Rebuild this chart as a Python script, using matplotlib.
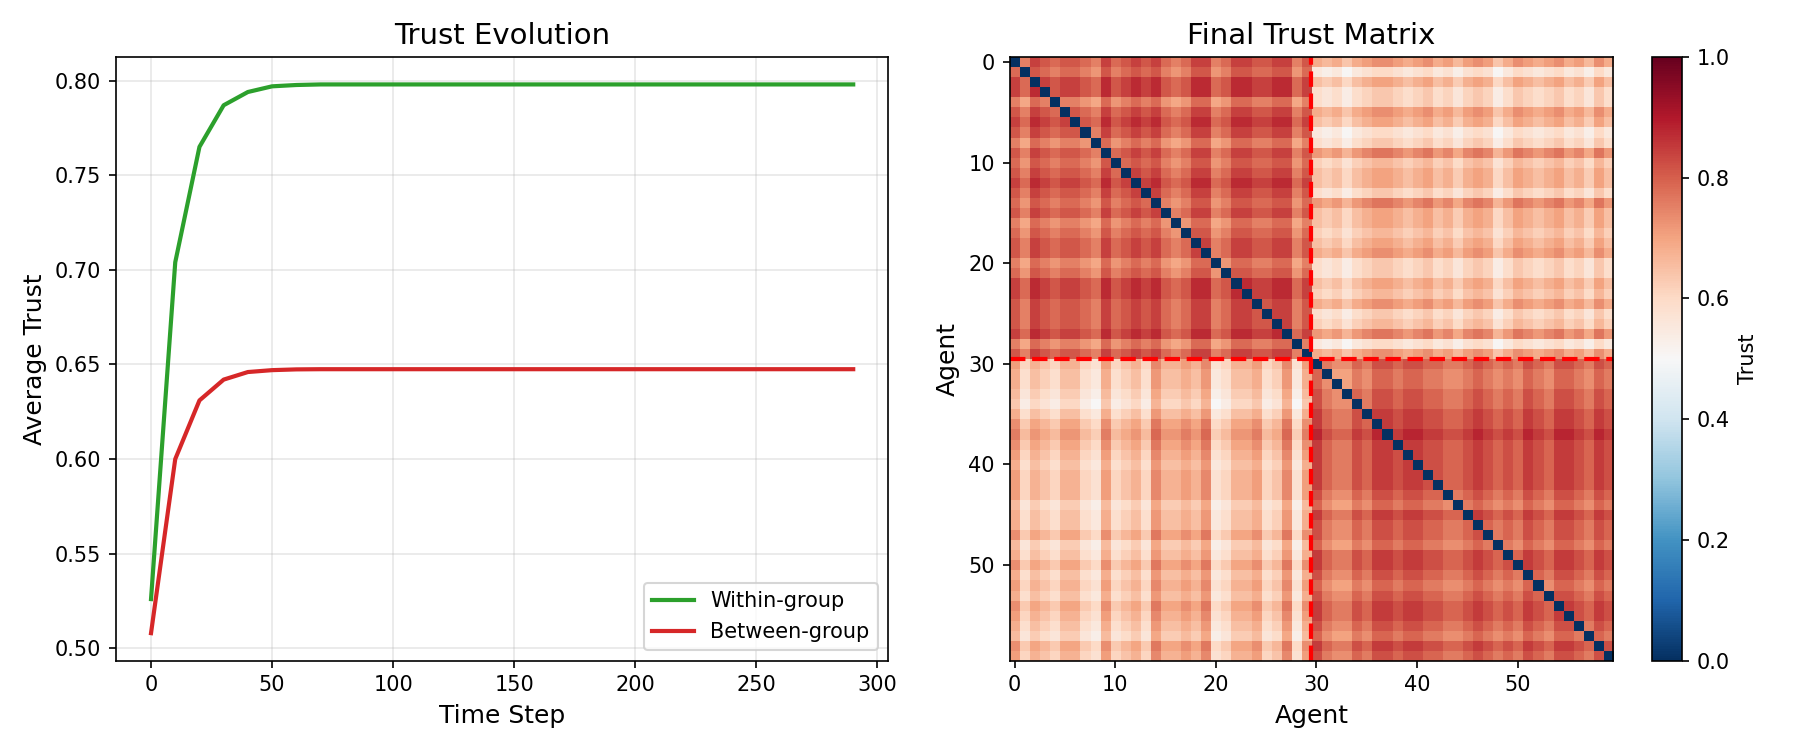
import numpy as np
import matplotlib
matplotlib.use('Agg')
import matplotlib.pyplot as plt

# --- trust evolution ---
steps = list(range(0, 300, 10))
within_trust = [0.526, 0.704, 0.765, 0.787, 0.794, 0.797, 0.7977, 0.798, 0.798, 0.798,
                0.798, 0.798, 0.798, 0.798, 0.798, 0.798, 0.798, 0.798, 0.798, 0.798,
                0.798, 0.798, 0.798, 0.798, 0.798, 0.798, 0.798, 0.798, 0.798, 0.798]
between_trust = [0.508, 0.600, 0.631, 0.642, 0.646, 0.647, 0.6474, 0.6475, 0.6475, 0.6475,
                 0.6475, 0.6475, 0.6475, 0.6475, 0.6475, 0.6475, 0.6475, 0.6475, 0.6475, 0.6475,
                 0.6475, 0.6475, 0.6475, 0.6475, 0.6475, 0.6475, 0.6475, 0.6475, 0.6475, 0.6475]

# --- final trust matrix: stripe levels read per row / column of each block ---
# levels: -3 very light ... 0 medium ... +2 dark
n_agents = 60
group_size = 30
within_base = 0.798
between_base = 0.6475
level_step = 0.03

# top-left block (group A -> group A)
tl_rows = [0, -1, 1, 1, -2, 0, 1, 0, -2, 0, -1, 0, 1, 0, -1, 0, -2, -1, 0, 0,
           -2, -1, 1, 1, 0, 0, 0, 1, -2, 0]
tl_cols = [0, -2, 1, 0, -1, 0, 0, -1, -2, 1, -1, 0, 1, 0, 1, -1, -2, -1, 1, 1,
           -2, -1, 1, 1, 0, 0, 1, 1, -2, 0]
# bottom-right block (group B -> group B)
br_rows = [0, -1, -1, 0, 0, 1, 1, 2, 1, 1, 1, 1, 1, 0, -1, 1, 0, 0, -1, 1,
           1, 0, -1, 0, 1, 1, 0, -1, 1, 0]
br_cols = [1, -1, -2, -2, 0, -1, 1, 1, 0, 1, 1, 0, 0, -1, -1, 0, 1, 0, -1, 0,
           -1, 1, 0, -1, 1, 1, 0, -1, 1, 0]
# top-right block (group A -> group B)
tr_rows = [1, -3, 0, -2, -2, 1, 0, -3, -2, 2, -1, 0, 0, -2, 2, 0, 0, -1, 0, 1,
           -2, -2, 0, -1, 1, -2, -1, 2, -3, 1]
tr_cols = [-1, -2, -1, -3, -1, 0, 1, 1, 0, -1, 0, 1, -1, 0, -2, 0, 1, 0, -3, -1,
           1, 0, -1, 0, 1, -1, 0, -2, 1, -1]
# bottom-left block (group B -> group A)
bl_rows = [0, -1, -1, -2, -3, -1, 1, 2, 1, 0, -1, 0, 0, 0, -2, -1, -1, 1, -2, -1,
           1, -1, 0, -1, 1, 0, -1, -2, 1, 0]
bl_cols = [1, -2, 0, -1, -2, 0, 0, -2, -3, 1, -2, -1, 0, -2, 2, 0, 0, 1, 0, 2,
           -3, -2, 0, 0, 1, -2, -1, 2, -3, 1]


def block(base, rows, cols, row_w, col_w):
    r = np.array(rows, dtype=float)
    c = np.array(cols, dtype=float)
    r = (r - r.mean()) * level_step * row_w
    c = (c - c.mean()) * level_step * col_w
    return base + r[:, None] + c[None, :]


trust = np.zeros((n_agents, n_agents))
g = group_size
trust[:g, :g] = block(within_base, tl_rows, tl_cols, 1.0, 1.0)
trust[g:, g:] = block(within_base, br_rows, br_cols, 1.0, 1.0)
trust[:g, g:] = block(between_base, tr_rows, tr_cols, 1.1, 0.8)
trust[g:, :g] = block(between_base, bl_rows, bl_cols, 0.8, 1.1)
np.fill_diagonal(trust, 0.0)

fig, (ax1, ax2) = plt.subplots(1, 2, figsize=(12, 5), dpi=150)

ax1.plot(steps, within_trust, color='#2ca02c', linewidth=2, label='Within-group')
ax1.plot(steps, between_trust, color='#d62728', linewidth=2, label='Between-group')
ax1.set_xlabel('Time Step', fontsize=12)
ax1.set_ylabel('Average Trust', fontsize=12)
ax1.set_title('Trust Evolution', fontsize=14)
ax1.legend(loc='lower right')
ax1.grid(True, alpha=0.3)

im = ax2.imshow(trust, cmap='RdBu_r', vmin=0, vmax=1)
ax2.axhline(g - 0.5, color='red', linestyle='--', linewidth=2)
ax2.axvline(g - 0.5, color='red', linestyle='--', linewidth=2)
ax2.set_xlabel('Agent', fontsize=12)
ax2.set_ylabel('Agent', fontsize=12)
ax2.set_title('Final Trust Matrix', fontsize=14)
cbar = plt.colorbar(im, ax=ax2)
cbar.set_label('Trust')

plt.tight_layout()
plt.savefig('out.png', dpi=150)
